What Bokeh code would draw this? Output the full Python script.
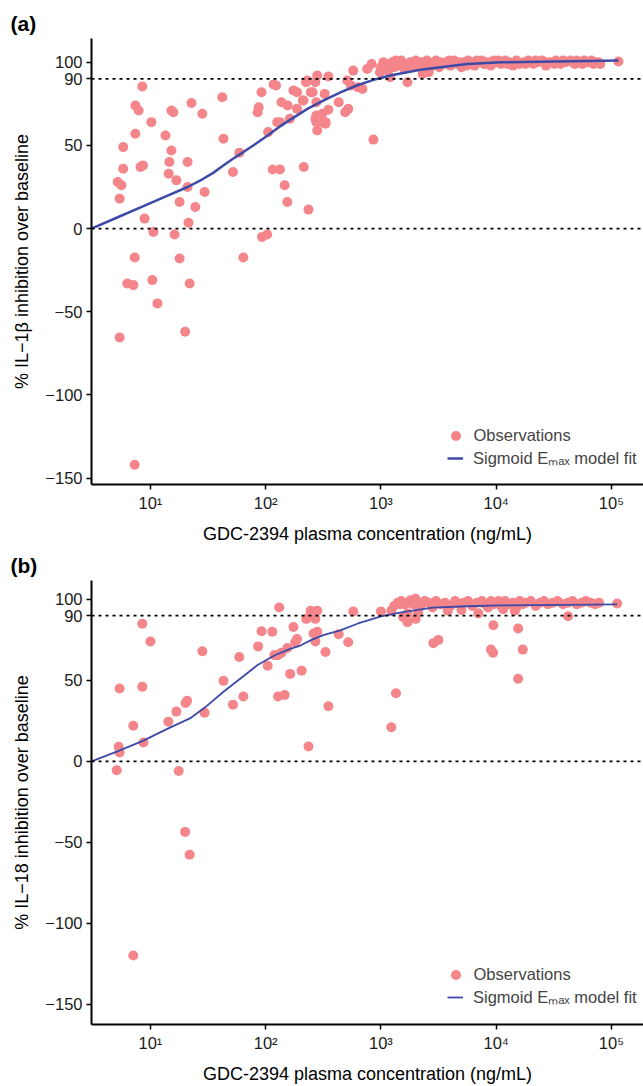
from bokeh.plotting import figure
from bokeh.models import Range1d, FixedTicker, Span, Legend, LegendItem
from bokeh.layouts import column
from bokeh.embed import file_html
from bokeh.resources import INLINE

FONT = "Liberation Sans"
PT_COLOR = "#F4868B"
LINE_COLOR = "#3D4AA8"

x_ticks = [10, 100, 1000, 10000, 100000]
x_tick_labels = ["10¹", "10²", "10³", "10⁴", "10⁵"]
y_ticks = [-150, -100, -50, 0, 50, 90, 100]
y_tick_labels = ["−150", "−100", "−50", "0", "50", "90", "100"]
ref_lines = [0, 90]
x_title = "GDC-2394 plasma concentration (ng/mL)"
legend_labels = ["Observations", "Sigmoid Eₘₐₓ model fit"]

# ---- Panel (a): IL-1beta ----
conc_a = [8.5, 7.4, 7.9, 10.2, 7.4, 5.8, 5.8, 5.2, 5.6, 5.4, 8.2, 8.6, 8.9, 10.6,
          15.2, 15.8, 13.5, 15.2, 14.6, 14.4, 16.8, 21, 21, 17.9, 24.5, 21.4, 16.2,
          22.7, 28.2, 29.5, 42, 43, 59, 52, 92, 87, 85, 117, 123, 105, 137, 155, 126,
          133, 162, 174, 187, 210, 230, 280, 255, 214, 115, 133, 146, 154, 235, 93, 103,
          270, 280, 310, 330, 7.3, 6.3, 7.1, 10.4, 17.9, 21.9, 11.5, 20, 5.4, 7.3, 64,
          187, 213, 224, 246, 270, 325, 350, 275, 275, 275, 310, 330, 350, 430, 490, 520,
          860, 510, 575, 550, 630, 690, 760, 830, 980, 1200, 1280, 1560, 1700, 1900, 2300, 2600,
          1000, 1100, 1150, 1250, 1300, 1400, 1500, 1600, 1700, 1800, 1900, 2000, 2100, 2300,
          2400, 2600, 2800, 3000, 3200, 3500, 3700, 4000, 4300, 4600, 5000, 5300, 5700, 6000,
          6500, 7000, 7500, 8000, 8500, 9000, 9500, 10000, 11000, 12000, 13000, 14000, 15000,
          16000, 17500, 19000, 21000, 23000, 25000, 27000, 30000, 33000, 36000, 40000, 44000,
          48000, 53000, 58000, 64000, 70000, 77000, 115000,
          1050, 1350, 1450, 2200, 2500, 2700, 3300, 3900, 4200, 4800, 5500, 6200, 6800, 7800,
          9200, 10500, 11500, 12500, 18000, 20000, 22000, 28000, 32000, 38000, 46000, 50000,
          56000, 61000, 67000, 73000, 80000]
inhib_a = [85.4, 74, 71, 64, 57, 49, 36, 28, 26, 18, 37, 38, 6, -2,
           71, 70, 56, 47, 40, 33, 29, 40, 25, 16, 13, 3.5, -3.6,
           75.5, 69, 22, 79, 54, 45.6, 34, 82, 73, 70, 86.6, 86, 58, 76, 74, 64,
           64, 66, 83, 82, 77, 89, 92, 82, 37, 35.5, 35.5, 26, 16, 11.4, -5, -3.6,
           66, 59, 69, 63, -17.4, -33, -34, -31, -18, -33, -45, -62, -65.5, -142, -17.4,
           72, 77, 88, 82, 88, 81, 91.5, 76, 68, 64, 64, 64, 71.5, 76, 70, 72,
           53.5, 89, 95, 86, 85, 84, 96, 99, 94, 91, 99, 99, 88, 99, 93, 94,
           97, 99, 95, 100, 97, 98, 101, 96, 99, 100, 97, 101, 98, 99,
           96, 100, 98, 101, 97, 99, 100, 98, 101, 99, 97, 100, 101, 99,
           98, 100, 101, 99, 100, 98, 101, 100, 99, 101, 100, 98, 101,
           99, 100, 101, 99, 100, 101, 98, 100, 101, 99, 100, 101,
           99, 100, 101, 100, 99, 100, 100.5,
           100, 101, 99, 100, 101, 99, 100, 101, 99, 100, 98, 100, 101, 99,
           100, 101, 100, 99, 99, 100, 101, 100, 99, 101, 100, 101,
           99, 100, 101, 100, 99]
fit_conc_a = [3.08, 5.2, 8.5, 13, 21, 28, 35, 42, 52, 64, 78, 104, 130, 164, 230, 316,
              450, 624, 850, 1200, 2200, 5600, 11000, 115000]
fit_val_a = [0, 6.8, 13.2, 18.8, 25, 29.5, 33.5, 37.5, 42, 46, 50, 56, 61, 65.5, 72, 77,
             82, 86.2, 89.3, 92, 95.5, 99, 100, 101]

# ---- Panel (b): IL-18 ----
conc_b = [8.5, 10.0, 5.4, 8.5, 7.1, 5.3, 5.4, 8.7, 5.1, 17.6, 14.3, 16.8, 20.8, 20.2,
          29.5, 28.2, 43, 52, 64, 59, 86, 92, 114, 131, 104, 119, 128, 137, 154, 174,
          187, 180, 163, 205, 128, 146, 235, 225, 245, 280, 270, 260, 280, 270, 330, 350,
          20, 21.9, 7.1, 430, 520, 575, 1000, 1230, 1350, 1230, 1470, 1720, 1560, 1700,
          2000, 2850, 3150, 7000, 9450, 9000, 9400, 15500, 17000, 15500, 42000,
          1300, 1400, 1500, 1600, 1800, 1900, 1990, 2000, 2200, 2400, 2600, 2800, 3000,
          3300, 3600, 4000, 4400, 4800, 5200, 5700, 6200, 6800, 7500, 8000, 8500, 9000,
          9500, 10000, 10500, 11000, 12000, 13000, 14000, 15000, 16000, 17000, 18000,
          20000, 22000, 24000, 26000, 28000, 31000, 34000, 38000, 42000, 46000, 50000,
          55000, 60000, 66000, 72000, 78000, 112000,
          1700, 2100, 3800, 5000, 11500, 14500]
inhib_b = [85, 74, 45, 46, 22, 9, 5.5, 11.6, -5.5, -6, 24.5, 30.7, 37.4, 36,
           30, 68, 49.7, 35, 40, 64.4, 71, 80.4, 80, 95, 59, 65.6, 65.6, 67, 70, 83,
           75.5, 73.6, 54, 56, 40, 41, 9.2, 88, 93, 93, 88, 79, 80, 74, 67.5, 34,
           -43.6, -57.7, -120, 78.5, 73.6, 92.6, 92.6, 93, 42, 21, 97, 98, 89, 86,
           88, 73, 75, 91.4, 84, 69, 67, 82, 69, 51, 89.6,
           96, 98, 99, 97, 99.5, 97, 100.5, 98, 96, 99, 98, 95, 99,
           97, 98, 96, 99, 97, 98, 99, 96, 98, 99, 97, 95, 99,
           97, 98, 99, 96, 99, 97, 98, 95, 99, 97, 98,
           99, 96, 98, 99, 97, 98, 99, 97, 98, 99, 97,
           98, 99, 98, 97, 98, 97.5,
           91.5, 92, 93, 93.5, 94, 93]
fit_conc_b = [3.08, 5.1, 8.5, 14, 22, 30, 43, 64, 85, 120, 163, 200, 250, 316, 450,
              624, 1000, 1500, 2800, 5600, 11000, 112000]
fit_val_b = [0, 6, 12.5, 20, 26.5, 33.5, 43, 52.5, 59.5, 65.5, 69.5, 71.5, 75, 78, 81,
             85, 89.5, 92, 95, 95.8, 96.3, 97]


def make_panel(tag, conc, inhib, fit_conc, fit_val, ylabel, y_lo, y_hi,
               height, top, bottom, line_w, leg_y1, leg_y2):
    p = figure(width=643, height=height, x_axis_type="log",
               x_range=Range1d(3.08, 189700), y_range=Range1d(y_lo, y_hi),
               output_backend="svg", toolbar_location=None,
               min_border_left=91, min_border_right=0,
               min_border_top=top, min_border_bottom=bottom,
               title=tag)
    p.title.align = "left"
    p.title.offset = -81
    p.title.standoff = 8
    p.title.text_font = FONT
    p.title.text_font_size = "21px"
    p.title.text_font_style = "bold"
    p.title.text_color = "black"
    p.outline_line_color = None
    p.xgrid.visible = False
    p.ygrid.visible = False

    r_pts = p.scatter(conc, inhib, size=10, fill_color=PT_COLOR, line_color=None)
    r_fit = p.line(fit_conc, fit_val, line_color=LINE_COLOR, line_width=line_w)

    for v in ref_lines:
        p.add_layout(Span(location=v, dimension="width", line_color="black",
                          line_dash="3 4", line_width=1.7))

    p.xaxis.ticker = FixedTicker(ticks=x_ticks)
    p.xaxis.major_label_overrides = dict(zip(x_ticks, x_tick_labels))
    p.yaxis.ticker = FixedTicker(ticks=y_ticks)
    p.yaxis.major_label_overrides = dict(zip(y_ticks, y_tick_labels))
    p.xaxis.axis_label = x_title
    p.yaxis.axis_label = ylabel
    for ax in (p.xaxis[0], p.yaxis[0]):
        ax.axis_line_width = 2
        ax.axis_line_color = "black"
        ax.major_tick_line_width = 1.5
        ax.major_tick_line_color = "black"
        ax.major_tick_out = 5
        ax.major_tick_in = 0
        ax.minor_tick_out = 0
        ax.minor_tick_in = 0
        ax.major_label_text_font = FONT
        ax.major_label_text_font_size = "16.5px"
        ax.major_label_text_color = "#1a1a1a"
        ax.major_label_standoff = 4
        ax.axis_label_text_font = FONT
        ax.axis_label_text_font_size = "18px"
        ax.axis_label_text_font_style = "normal"
        ax.axis_label_text_color = "black"
    p.xaxis.axis_label_standoff = 9
    p.yaxis.axis_label_standoff = 10

    common = dict(padding=0, margin=0, label_text_font=FONT,
                  label_text_font_size="16.5px", background_fill_alpha=0,
                  border_line_alpha=0)
    leg1 = Legend(items=[LegendItem(label=legend_labels[0], renderers=[r_pts])],
                  location=(351.5, leg_y1), glyph_width=25, glyph_height=25,
                  label_standoff=6, **common)
    leg2 = Legend(items=[LegendItem(label=legend_labels[1], renderers=[r_fit])],
                  location=(356, leg_y2), glyph_width=16, glyph_height=20,
                  label_standoff=10, **common)
    p.add_layout(leg1)
    p.add_layout(leg2)
    return p


pa = make_panel("(a)", conc_a, inhib_a, fit_conc_a, fit_val_a,
                "% IL−1β inhibition over baseline", -153.9, 114.3,
                546, 38, 62, 2.5, 36.5, 15)
pb = make_panel("(b)", conc_b, inhib_b, fit_conc_b, fit_val_b,
                "% IL−18 inhibition over baseline", -162.6, 111.7,
                540, 34, 59, 1.8, 37.5, 16)

layout = column(pa, pb)
open("out.html", "w").write(file_html(layout, INLINE))
